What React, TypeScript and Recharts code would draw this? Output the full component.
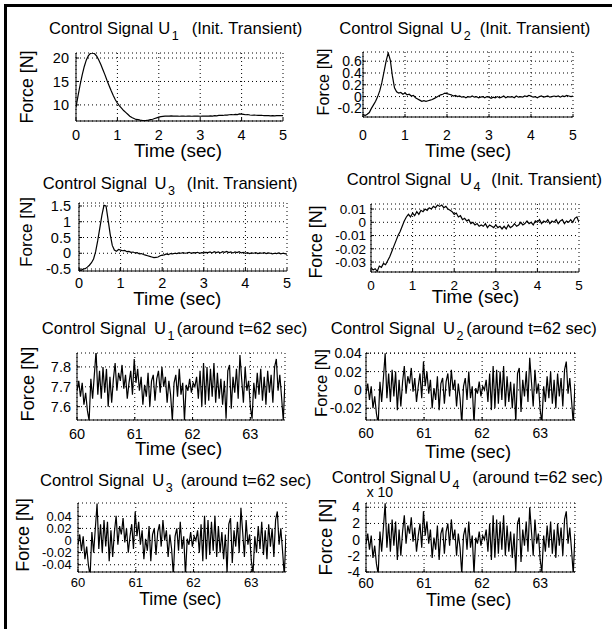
import React from 'react';
import { LineChart, Line, XAxis, YAxis, CartesianGrid } from 'recharts';

const FONT = '"Liberation Sans", Arial, Helvetica, sans-serif';

// ---------- time axes ----------
const transientTimeTicks = [0, 1, 2, 3, 4, 5];
const steadyTimeTicks = [60, 61, 62, 63];
const transientStart = 0;
const transientStep = 0.05;
const steadyStart = 60;
const steadyStep = 0.03;

// ---------- initial transient (t = 0 .. 5 s, every 0.05 s) ----------
const u1Transient = [
  9.5, 12.0, 14.3, 16.4, 18.2, 19.6, 20.5, 21.0, 21.1, 20.9,
  20.4, 19.6, 18.6, 17.5, 16.4, 15.2, 14.1, 13.0, 12.0, 11.1,
  10.4, 9.8, 9.3, 8.8, 8.4, 8.0, 7.6, 7.3, 7.1, 6.9,
  6.85, 6.75, 6.7, 6.68, 6.7, 6.75, 6.85, 6.95, 7.1, 7.25,
  7.4, 7.5, 7.55, 7.6, 7.62, 7.6, 7.65, 7.6, 7.62, 7.6,
  7.58, 7.6, 7.62, 7.58, 7.6, 7.6, 7.58, 7.6, 7.62, 7.6,
  7.58, 7.6, 7.6, 7.62, 7.6, 7.65, 7.62, 7.7, 7.68, 7.75,
  7.8, 7.75, 7.85, 7.82, 7.9, 7.95, 7.9, 8.0, 7.95, 8.1,
  8.05, 8.0, 7.9, 7.95, 7.85, 7.8, 7.85, 7.8, 7.75, 7.8,
  7.75, 7.72, 7.7, 7.72, 7.68, 7.7, 7.68, 7.7, 7.72, 7.7,
  7.7,
];
const u2Transient = [
  -0.30, -0.32, -0.30, -0.27, -0.20, -0.14, -0.08, 0.00, 0.10, 0.24,
  0.42, 0.60, 0.74, 0.62, 0.35, 0.15, 0.08, 0.06, 0.07, 0.04,
  0.06, 0.03, 0.04, 0.01, 0.02, -0.02, -0.04, -0.06, -0.08, -0.07,
  -0.08, -0.07, -0.06, -0.05, -0.03, -0.01, 0.01, 0.03, 0.04, 0.06,
  0.05, 0.04, 0.03, 0.01, 0.02, 0.00, 0.01, -0.01, 0.00, -0.02,
  0.00, -0.01, 0.01, -0.01, 0.00, -0.02, -0.01, 0.00, -0.02, 0.00,
  -0.01, -0.03, -0.01, -0.02, 0.00, -0.02, -0.01, 0.01, -0.02, 0.00,
  -0.01, 0.00, -0.02, 0.01, -0.01, 0.00, -0.01, 0.01, 0.00, 0.02,
  0.01, -0.01, 0.00, -0.02, 0.00, 0.01, -0.01, 0.00, 0.01, -0.01,
  0.00, 0.01, 0.00, 0.01, -0.01, 0.01, 0.00, 0.02, 0.01, 0.00,
  0.01,
];
const u3Transient = [
  -0.52, -0.55, -0.50, -0.49, -0.44, -0.38, -0.30, -0.18, 0.05, 0.40,
  0.80, 1.20, 1.52, 1.50, 1.05, 0.60, 0.25, 0.10, 0.06, 0.12,
  0.10, 0.08, 0.09, 0.05, 0.06, 0.03, 0.04, 0.01, 0.02, -0.02,
  -0.01, -0.04, -0.06, -0.08, -0.10, -0.12, -0.14, -0.13, -0.12, -0.08,
  -0.06, -0.05, -0.02, -0.04, -0.01, -0.02, 0.00, -0.01, 0.01, 0.00,
  0.02, 0.00, 0.01, 0.03, 0.00, 0.02, 0.01, 0.03, 0.00, 0.02,
  0.01, 0.03, 0.02, 0.04, 0.01, 0.05, 0.02, 0.04, 0.01, 0.05,
  0.03, 0.06, 0.02, 0.04, 0.01, 0.04, 0.02, 0.05, 0.01, 0.03,
  0.00, 0.02, -0.01, 0.01, 0.00, 0.02, -0.01, 0.01, 0.00, 0.02,
  -0.01, 0.01, 0.00, -0.02, 0.00, -0.01, 0.01, -0.02, 0.00, -0.01,
  -0.03,
];
const u4Transient = [
  -0.034, -0.036, -0.035, -0.037, -0.033, -0.034, -0.031, -0.032, -0.029, -0.026,
  -0.022, -0.018, -0.014, -0.010, -0.007, -0.003, 0.001, 0.004, 0.006, 0.004,
  0.007, 0.005, 0.008, 0.006, 0.009, 0.008, 0.010, 0.009, 0.011, 0.010,
  0.012, 0.011, 0.013, 0.012, 0.013, 0.011, 0.012, 0.010, 0.009, 0.008,
  0.006, 0.007, 0.004, 0.005, 0.002, 0.003, 0.001, 0.002, -0.001, 0.000,
  -0.002, -0.001, -0.003, -0.002, -0.003, -0.001, -0.004, -0.002, -0.003, -0.004,
  -0.002, -0.004, -0.003, -0.005, -0.003, -0.005, -0.002, -0.004, -0.003, -0.001,
  -0.003, -0.002, 0.000, -0.002, -0.001, 0.001, -0.001, 0.000, -0.002, 0.001,
  0.000, 0.002, -0.001, 0.001, 0.000, 0.002, -0.001, 0.001, 0.000, 0.002,
  -0.001, 0.001, 0.002, -0.001, 0.001, 0.000, 0.002, 0.000, 0.003, 0.004,
  0.000,
];

// ---------- around t = 62 s (t = 60 .. 63.6 s, every 0.03 s) ----------
const u1Steady = [
  7.68, 7.73, 7.65, 7.72, 7.61, 7.67, 7.58, 7.53, 7.74, 7.64,
  7.76, 7.88, 7.66, 7.78, 7.64, 7.80, 7.67, 7.79, 7.60, 7.75,
  7.62, 7.74, 7.82, 7.68, 7.77, 7.73, 7.81, 7.69, 7.76, 7.64,
  7.72, 7.78, 7.66, 7.84, 7.72, 7.79, 7.68, 7.75, 7.61, 7.71,
  7.65, 7.77, 7.60, 7.73, 7.76, 7.63, 7.74, 7.78, 7.67, 7.80,
  7.70, 7.75, 7.62, 7.73, 7.66, 7.53, 7.72, 7.76, 7.65, 7.79,
  7.66, 7.72, 7.53, 7.71, 7.68, 7.74, 7.67, 7.72, 7.70, 7.75,
  7.64, 7.78, 7.60, 7.82, 7.61, 7.80, 7.63, 7.79, 7.65, 7.82,
  7.62, 7.77, 7.64, 7.74, 7.61, 7.73, 7.54, 7.78, 7.81, 7.59,
  7.75, 7.67, 7.79, 7.64, 7.86, 7.74, 7.62, 7.80, 7.68, 7.73,
  7.60, 7.54, 7.72, 7.64, 7.77, 7.66, 7.79, 7.63, 7.75, 7.61,
  7.78, 7.67, 7.76, 7.62, 7.80, 7.84, 7.68, 7.76, 7.65, 7.53,
  7.73,
];
const u2Steady = [
  -0.004, 0.007, -0.011, 0.004, -0.020, -0.007, -0.026, -0.037, 0.009, -0.013,
  0.013, 0.040, -0.009, 0.018, -0.013, 0.022, -0.007, 0.020, -0.022, 0.011,
  -0.018, 0.009, 0.026, -0.004, 0.015, 0.007, 0.024, -0.002, 0.013, -0.013,
  0.004, 0.018, -0.009, 0.031, 0.004, 0.020, -0.004, 0.011, -0.020, 0.002,
  -0.011, 0.015, -0.022, 0.007, 0.013, -0.015, 0.009, 0.018, -0.007, 0.022,
  0.000, 0.011, -0.018, 0.007, -0.009, -0.037, 0.004, 0.013, -0.011, 0.020,
  -0.009, 0.004, -0.037, 0.002, -0.004, 0.009, -0.007, 0.004, 0.000, 0.011,
  -0.013, 0.018, -0.022, 0.026, -0.020, 0.022, -0.015, 0.020, -0.011, 0.026,
  -0.018, 0.015, -0.013, 0.009, -0.020, 0.007, -0.035, 0.018, 0.024, -0.024,
  0.011, -0.007, 0.020, -0.013, 0.035, 0.009, -0.018, 0.022, -0.004, 0.007,
  -0.022, -0.035, 0.004, -0.013, 0.015, -0.009, 0.020, -0.015, 0.011, -0.020,
  0.018, -0.007, 0.013, -0.018, 0.022, 0.031, -0.004, 0.013, -0.011, -0.037,
  0.007,
];
const u3Steady = [
  -0.007, 0.010, -0.017, 0.007, -0.031, -0.010, -0.041, -0.058, 0.014, -0.020,
  0.020, 0.061, -0.014, 0.027, -0.020, 0.034, -0.010, 0.031, -0.034, 0.017,
  -0.027, 0.014, 0.041, -0.007, 0.024, 0.010, 0.037, -0.003, 0.020, -0.020,
  0.007, 0.027, -0.014, 0.048, 0.007, 0.031, -0.007, 0.017, -0.031, 0.003,
  -0.017, 0.024, -0.034, 0.010, 0.020, -0.024, 0.014, 0.027, -0.010, 0.034,
  0.000, 0.017, -0.027, 0.010, -0.014, -0.058, 0.007, 0.020, -0.017, 0.031,
  -0.014, 0.007, -0.058, 0.003, -0.007, 0.014, -0.010, 0.007, 0.000, 0.017,
  -0.020, 0.027, -0.034, 0.041, -0.031, 0.034, -0.024, 0.031, -0.017, 0.041,
  -0.027, 0.024, -0.020, 0.014, -0.031, 0.010, -0.054, 0.027, 0.037, -0.037,
  0.017, -0.010, 0.031, -0.020, 0.054, 0.014, -0.027, 0.034, -0.007, 0.010,
  -0.034, -0.054, 0.007, -0.020, 0.024, -0.014, 0.031, -0.024, 0.017, -0.031,
  0.027, -0.010, 0.020, -0.027, 0.034, 0.048, -0.007, 0.020, -0.017, -0.058,
  0.010,
];
// U4 around t=62 s, in units of 1e-3 N
const u4SteadyMilli = [
  -0.5, 0.75, -1.25, 0.5, -2.25, -0.75, -3, -4.25, 1, -1.5,
  1.5, 4.5, -1, 2, -1.5, 2.5, -0.75, 2.25, -2.5, 1.25,
  -2, 1, 3, -0.5, 1.75, 0.75, 2.75, -0.25, 1.5, -1.5,
  0.5, 2, -1, 3.5, 0.5, 2.25, -0.5, 1.25, -2.25, 0.25,
  -1.25, 1.75, -2.5, 0.75, 1.5, -1.75, 1, 2, -0.75, 2.5,
  0, 1.25, -2, 0.75, -1, -4.25, 0.5, 1.5, -1.25, 2.25,
  -1, 0.5, -4.25, 0.25, -0.5, 1, -0.75, 0.5, 0, 1.25,
  -1.5, 2, -2.5, 3, -2.25, 2.5, -1.75, 2.25, -1.25, 3,
  -2, 1.75, -1.5, 1, -2.25, 0.75, -4, 2, 2.75, -2.75,
  1.25, -0.75, 2.25, -1.5, 4, 1, -2, 2.5, -0.5, 0.75,
  -2.5, -4, 0.5, -1.5, 1.75, -1, 2.25, -1.75, 1.25, -2.25,
  2, -0.75, 1.5, -2, 2.5, 3.5, -0.5, 1.5, -1.25, -4.25,
  0.75,
];

// ---------- value-axis ticks ----------
const u1TransientTicks = [10, 15, 20];
const u2TransientTicks = [-0.2, 0, 0.2, 0.4, 0.6];
const u3TransientTicks = [-0.5, 0, 0.5, 1, 1.5];
const u4TransientTicks = [-0.03, -0.02, -0.01, 0, 0.01];
const u1SteadyTicks = [7.6, 7.7, 7.8];
const u2SteadyTicks = [-0.02, 0, 0.02, 0.04];
const u3SteadyTicks = [-0.04, -0.02, 0, 0.02, 0.04];
const u4SteadyTicks = [-4, -2, 0, 2, 4];

function toRows(values: number[], start: number, step: number) {
  return values.map((v, i) => ({ t: +(start + i * step).toFixed(4), v }));
}

type Panel = {
  values: number[];
  start: number;
  step: number;
  box: [number, number, number, number];
  xDomain: [number, number];
  xTicks: number[];
  yDomain: [number, number];
  yTicks: number[];
  yTickMargin: number;
  xTickGap: number;
  tickFs: number;
  idx: string;
  titleTail: string;
  titleLeft: number;
  titleTop: number;
  gapA: number;
  gapB: number;
  xlLeft: number;
  xlTop: number;
  xlFs: number;
  ylCx: number;
  ylCy: number;
  ylFs: number;
};

const TR = '(Init. Transient)';
const ST = '(around t=62 sec)';

const panels: Panel[] = [
  { values: u1Transient, start: transientStart, step: transientStep, box: [76, 283, 53, 121], xDomain: [0, 5], xTicks: transientTimeTicks, yDomain: [6.57, 21.07], yTicks: u1TransientTicks, yTickMargin: 10, xTickGap: 9, tickFs: 14.5, idx: '1', titleTail: TR, titleLeft: 49, titleTop: 22.7, gapA: 5, gapB: 13, xlLeft: 134, xlTop: 144, xlFs: 18.8, ylCx: 28.3, ylCy: 86.7, ylFs: 17.8 },
  { values: u2Transient, start: transientStart, step: transientStep, box: [363, 573, 52, 117], xDomain: [0, 5], xTicks: transientTimeTicks, yDomain: [-0.346, 0.756], yTicks: u2TransientTicks, yTickMargin: 4.3, xTickGap: 13, tickFs: 14, idx: '2', titleTail: TR, titleLeft: 339.3, titleTop: 23.3, gapA: 6.7, gapB: 9, xlLeft: 425, xlTop: 144.5, xlFs: 18.4, ylCx: 322.5, ylCy: 81.5, ylFs: 16.3 },
  { values: u3Transient, start: transientStart, step: transientStep, box: [79, 287, 203, 271], xDomain: [0, 5], xTicks: transientTimeTicks, yDomain: [-0.563, 1.595], yTicks: u3TransientTicks, yTickMargin: 11, xTickGap: 7, tickFs: 14.5, idx: '3', titleTail: TR, titleLeft: 42.7, titleTop: 178.3, gapA: 7.7, gapB: 11.7, xlLeft: 133.3, xlTop: 292.7, xlFs: 18.8, ylCx: 26.4, ylCy: 232, ylFs: 17 },
  { values: u4Transient, start: transientStart, step: transientStep, box: [371, 579, 204, 272], xDomain: [0, 5], xTicks: transientTimeTicks, yDomain: [-0.0375, 0.0138], yTicks: u4TransientTicks, yTickMargin: 8, xTickGap: 8, tickFs: 13.5, idx: '4', titleTail: TR, titleLeft: 346.7, titleTop: 174.3, gapA: 9, gapB: 11, xlLeft: 431.7, xlTop: 290, xlFs: 18.7, ylCx: 316.5, ylCy: 241.5, ylFs: 17.8 },
  { values: u1Steady, start: steadyStart, step: steadyStep, box: [77, 285, 353, 420], xDomain: [60, 63.6], xTicks: steadyTimeTicks, yDomain: [7.533, 7.87], yTicks: u1SteadyTicks, yTickMargin: 9, xTickGap: 9, tickFs: 14.5, idx: '1', titleTail: ST, titleLeft: 41.7, titleTop: 323.3, gapA: 8, gapB: 2.5, xlLeft: 135, xlTop: 442.7, xlFs: 18.6, ylCx: 27.5, ylCy: 384, ylFs: 18.2 },
  { values: u2Steady, start: steadyStart, step: steadyStep, box: [366, 575, 353, 420], xDomain: [60, 63.6], xTicks: steadyTimeTicks, yDomain: [-0.0328, 0.0403], yTicks: u2SteadyTicks, yTickMargin: 7.3, xTickGap: 8, tickFs: 14, idx: '2', titleTail: ST, titleLeft: 330.7, titleTop: 323.3, gapA: 8, gapB: 3, xlLeft: 425, xlTop: 445, xlFs: 18.4, ylCx: 321, ylCy: 383, ylFs: 16.5 },
  { values: u3Steady, start: steadyStart, step: steadyStep, box: [78, 286, 503, 572], xDomain: [60, 63.6], xTicks: steadyTimeTicks, yDomain: [-0.052, 0.062], yTicks: u3SteadyTicks, yTickMargin: 9.3, xTickGap: 6, tickFs: 13, idx: '3', titleTail: ST, titleLeft: 40, titleTop: 475, gapA: 8, gapB: 8, xlLeft: 139.3, xlTop: 593.3, xlFs: 17.5, ylCx: 24, ylCy: 535, ylFs: 17.9 },
  { values: u4SteadyMilli, start: steadyStart, step: steadyStep, box: [366, 575, 503, 572], xDomain: [60, 63.6], xTicks: steadyTimeTicks, yDomain: [-4, 4.53], yTicks: u4SteadyTicks, yTickMargin: 9, xTickGap: 6, tickFs: 14, idx: '4', titleTail: ST, titleLeft: 331.7, titleTop: 471.7, gapA: 3, gapB: 13, xlLeft: 426, xlTop: 593.3, xlFs: 18.2, ylCx: 326, ylCy: 536.5, ylFs: 18.7 },
];

const YW = 60;
const XH = 30;
const M = 10;
const RP = 14;
const TITLE_FS = 16.6;
const SPACE = 0.278 * TITLE_FS;

function Title({ p }: { p: Panel }) {
  return (
    <div
      style={{
        position: 'absolute',
        left: p.titleLeft,
        top: p.titleTop - 0.1305 * TITLE_FS,
        fontSize: TITLE_FS,
        lineHeight: 1,
        whiteSpace: 'pre',
        fontFamily: FONT,
        color: '#000',
      }}
    >
      <span>Control Signal</span>
      <span style={{ marginLeft: p.gapA - SPACE }}> U</span>
      <span style={{ fontSize: 12.5, position: 'relative', top: 6.3, marginLeft: 1.5 }}>{p.idx}</span>
      <span style={{ marginLeft: p.gapB - SPACE }}> {p.titleTail}</span>
    </div>
  );
}

function PanelChart({ p }: { p: Panel }) {
  const [x0, x1, y0, y1] = p.box;
  const rows = toRows(p.values, p.start, p.step);
  const w = YW + (x1 - x0) + RP;
  const h = M + (y1 - y0) + XH;
  const tickStyle = { fill: '#000', fontSize: p.tickFs, fontFamily: FONT };
  return (
    <>
      <div style={{ position: 'absolute', left: x0 - YW, top: y0 - M }}>
        <LineChart width={w} height={h} data={rows} margin={{ top: M, right: RP, left: 0, bottom: 0 }}>
          <CartesianGrid stroke="#000" strokeDasharray="1 3" strokeWidth={1} />
          <XAxis
            dataKey="t"
            type="number"
            domain={p.xDomain}
            ticks={p.xTicks}
            allowDataOverflow
            interval={0}
            height={XH}
            tickSize={-3}
            tickMargin={p.xTickGap + 3}
            stroke="#000"
            tick={tickStyle}
          />
          <XAxis
            xAxisId="top"
            orientation="top"
            dataKey="t"
            type="number"
            domain={p.xDomain}
            ticks={p.xTicks}
            allowDataOverflow
            interval={0}
            height={0}
            tickSize={-3}
            stroke="#000"
            tick={false}
          />
          <YAxis
            type="number"
            domain={p.yDomain}
            ticks={p.yTicks}
            allowDataOverflow
            interval={0}
            width={YW}
            tickSize={-3}
            tickMargin={p.yTickMargin}
            stroke="#000"
            tick={tickStyle}
          />
          <YAxis
            yAxisId="right"
            orientation="right"
            type="number"
            domain={p.yDomain}
            ticks={p.yTicks}
            allowDataOverflow
            interval={0}
            width={0}
            tickSize={-3}
            stroke="#000"
            tick={false}
          />
          <Line
            type="linear"
            dataKey="v"
            stroke="#000"
            strokeWidth={1.2}
            dot={false}
            activeDot={false}
            isAnimationActive={false}
          />
        </LineChart>
      </div>
      <Title p={p} />
      <div
        style={{
          position: 'absolute',
          left: p.xlLeft,
          top: p.xlTop - 0.1305 * p.xlFs,
          fontSize: p.xlFs,
          lineHeight: 1,
          whiteSpace: 'nowrap',
          fontFamily: FONT,
        }}
      >
        Time (sec)
      </div>
      <div
        style={{
          position: 'absolute',
          left: p.ylCx,
          top: p.ylCy,
          transform: 'translate(-50%, -50%) rotate(-90deg)',
          fontSize: p.ylFs,
          lineHeight: 1,
          whiteSpace: 'nowrap',
          fontFamily: FONT,
        }}
      >
        Force [N]
      </div>
    </>
  );
}

export default function App() {
  return (
    <div
      style={{
        position: 'absolute',
        left: 0,
        top: 0,
        width: 612,
        height: 629,
        overflow: 'hidden',
        background: '#fff',
        fontFamily: FONT,
        color: '#000',
      }}
    >
      <div
        style={{
          position: 'absolute',
          left: 4,
          top: 4,
          width: 700,
          height: 700,
          borderLeft: '3px solid #000',
          borderTop: '3px solid #000',
        }}
      />
      {panels.map((p, i) => (
        <PanelChart key={i} p={p} />
      ))}
      <div
        style={{
          position: 'absolute',
          left: 366.7,
          top: 487 - 0.1305 * 14,
          fontSize: 14,
          lineHeight: 1,
          whiteSpace: 'nowrap',
          fontFamily: FONT,
        }}
      >
        x 10
      </div>
    </div>
  );
}
